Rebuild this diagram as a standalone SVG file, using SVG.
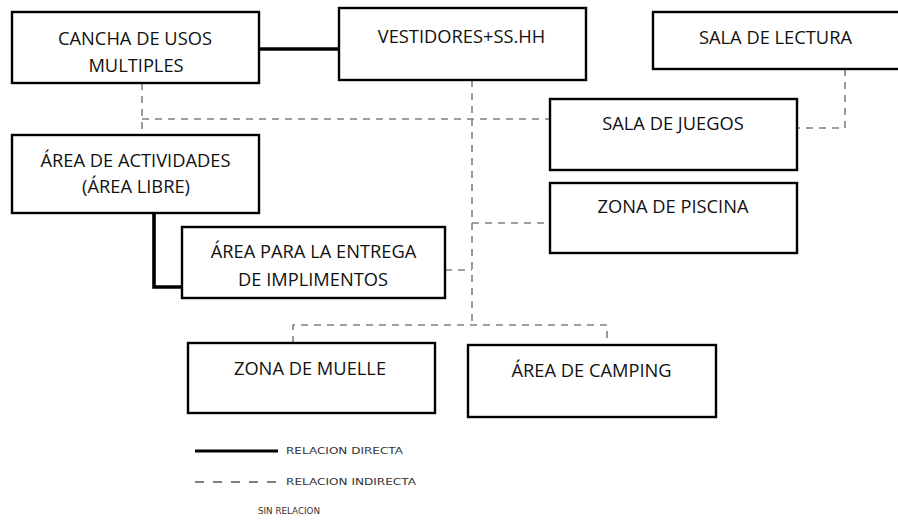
<svg xmlns="http://www.w3.org/2000/svg" width="898" height="521" viewBox="0 0 898 521">
<style>
.box{fill:#fff;stroke:#000;stroke-width:2.4}
.t{font-family:"Open Sans","Liberation Sans",sans-serif;font-size:18.3px;fill:#111;text-anchor:middle}
.direct{fill:none;stroke:#000;stroke-width:3.6}
.indirect{fill:none;stroke:#808080;stroke-width:1.6;stroke-dasharray:7 6}
.lg{font-family:"DejaVu Sans",sans-serif;font-size:8.5px;fill:#333}
</style>
<rect width="898" height="521" fill="#fff"/>
<g id="connectors">
<line class="direct" x1="259" y1="49" x2="339" y2="49"/>
<polyline class="direct" points="154,213 154,287 182,287"/>
<polyline class="indirect" points="142,83 142,135"/>
<polyline class="indirect" points="142,119 550,119"/>
<polyline class="indirect" points="845,69 845,128 797,128"/>
<polyline class="indirect" points="472,80 472,325"/>
<polyline class="indirect" points="472,223 550,223"/>
<polyline class="indirect" points="445,270 472,270"/>
<polyline class="indirect" points="293,343 293,325 607,325 607,345"/>
</g>
<g id="cancha">
<rect class="box" x="12" y="12" width="247" height="71"/>
<text class="t" x="135" y="45">CANCHA DE USOS</text>
<text class="t" x="136" y="72">MULTIPLES</text>
</g>
<g id="vestidores">
<rect class="box" x="339" y="8" width="247" height="72"/>
<text class="t" x="461.5" y="43">VESTIDORES+SS.HH</text>
</g>
<g id="lectura">
<rect class="box" x="653" y="12" width="260" height="57"/>
<text class="t" x="775.5" y="44">SALA DE LECTURA</text>
</g>
<g id="juegos">
<rect class="box" x="550" y="99" width="247" height="71"/>
<text class="t" x="673" y="130">SALA DE JUEGOS</text>
</g>
<g id="piscina">
<rect class="box" x="550" y="183" width="247" height="70"/>
<text class="t" x="673" y="213">ZONA DE PISCINA</text>
</g>
<g id="actividades">
<rect class="box" x="12" y="135" width="247" height="78"/>
<text class="t" x="135.5" y="167">ÁREA DE ACTIVIDADES</text>
<text class="t" x="136" y="193">(ÁREA LIBRE)</text>
</g>
<g id="implimentos">
<rect class="box" x="182" y="227" width="263" height="71"/>
<text class="t" x="313.5" y="258">ÁREA PARA LA ENTREGA</text>
<text class="t" x="313" y="286">DE IMPLIMENTOS</text>
</g>
<g id="muelle">
<rect class="box" x="188" y="343" width="247" height="70"/>
<text class="t" x="310" y="375">ZONA DE MUELLE</text>
</g>
<g id="camping">
<rect class="box" x="468" y="345" width="248" height="72"/>
<text class="t" x="591.5" y="377">ÁREA DE CAMPING</text>
</g>
<g id="legend">
<line x1="195" y1="451" x2="278" y2="451" stroke="#000" stroke-width="3.2"/>
<text class="lg" x="286" y="454" textLength="117" lengthAdjust="spacingAndGlyphs">RELACION DIRECTA</text>
<line x1="195" y1="482" x2="278" y2="482" stroke="#000" stroke-width="1.2" stroke-dasharray="9 9"/>
<text class="lg" x="286" y="485" textLength="130" lengthAdjust="spacingAndGlyphs">RELACION INDIRECTA</text>
<text class="lg" x="258" y="513.5" textLength="62" lengthAdjust="spacingAndGlyphs">SIN RELACION</text>
</g>
</svg>
